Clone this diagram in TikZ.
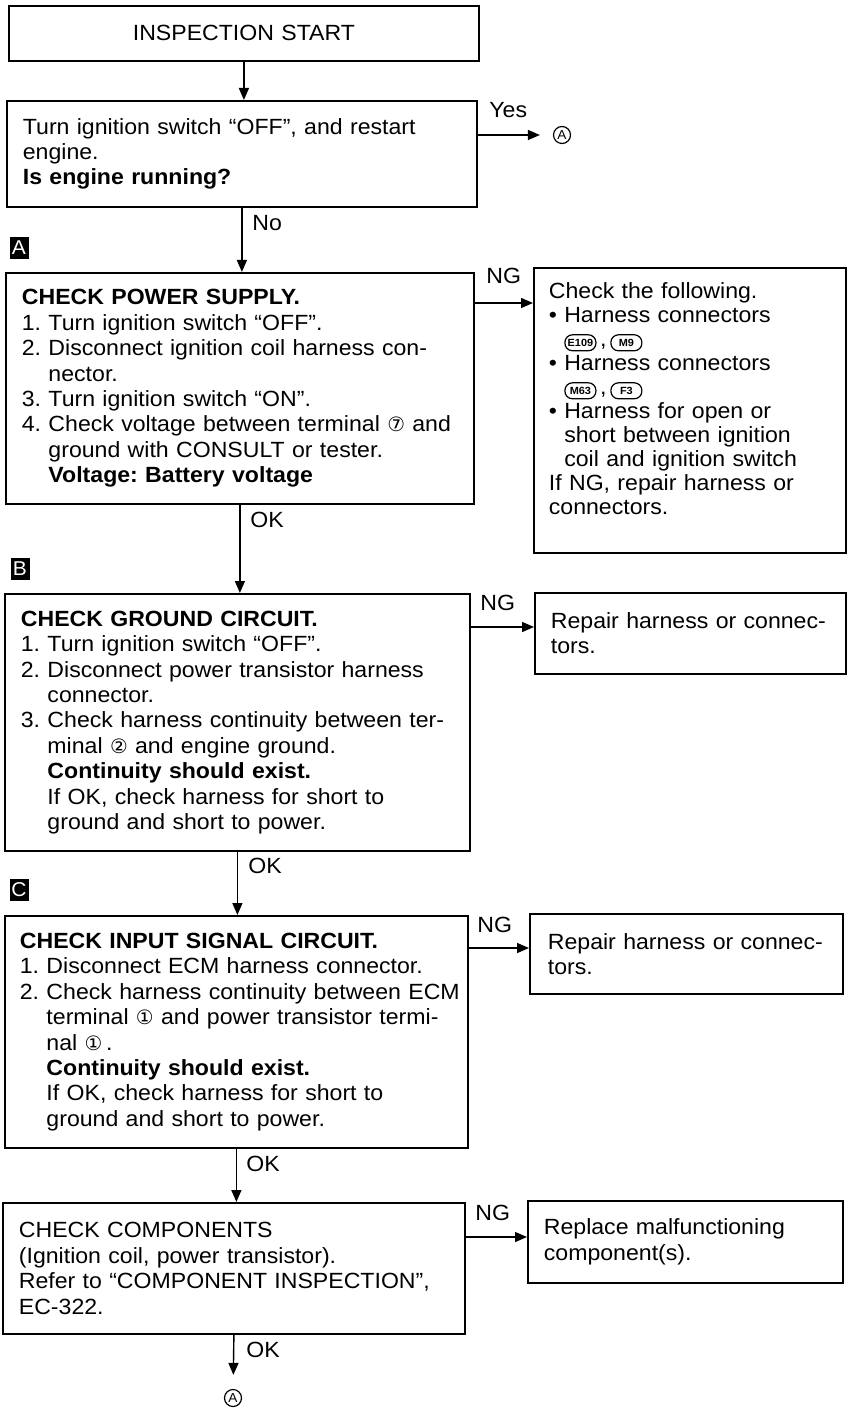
\documentclass[tikz,border=0pt]{standalone}
\usepackage{fontspec}
\setmainfont{Liberation Sans}[FakeStretch=1.05]
\newfontfamily\symf{DejaVu Sans}[Scale=0.9]
\usetikzlibrary{calc, arrows.meta, positioning}

\newcommand{\ind}{\hphantom{4. }}
\newcommand{\conn}[1]{\tikz[baseline=(cn.base)]\node[connbox] (cn) {#1};}

\tikzset{
  flowbox/.style={draw, line width=0.9pt, anchor=north west, align=left, inner xsep=8pt, inner ysep=0pt},
  lbl/.style={anchor=west, inner sep=0pt},
  secbox/.style={fill=black, text=white, minimum width=9.5pt, minimum height=11pt, inner sep=0pt, font=\fontsize{10}{11}\selectfont},
  jump/.style={circle, draw, line width=0.6pt, inner sep=0pt, minimum size=8.5pt, font=\fontsize{6.5}{7}\selectfont},
  connbox/.style={draw, line width=0.6pt, rounded corners=3.8pt, text width={}, align=center, inner sep=0pt,
    minimum width=15.5pt, minimum height=8pt, font=\bfseries\fontsize{5.2}{6}\selectfont},
  arr/.style={line width=0.7pt, -{Triangle[length=6pt,width=5pt]}},
}

\begin{document}
\frenchspacing
\begin{tikzpicture}[x=0.5pt, y=-0.5pt, font=\fontsize{11}{12.7}\selectfont]
\useasboundingbox (0,0) rectangle (847,1411);

% --- 1. START AND RESTART ---
\node[flowbox, align=center, text width=219pt, minimum height=27.5pt] (start) at (8,5) {INSPECTION START};
\node[flowbox, text width=219pt, minimum height=53pt] (restart) at (6,100)
  {Turn ignition switch “OFF”, and restart\\engine.\\\textbf{Is engine running?}};
\node[jump] (cA1) at (562,135) {A};

\draw[arr] (start.south) -- (start.south |- restart.north);
\draw[arr, shorten >=6.5pt] (cA1 -| restart.east) -- (cA1);
\node[lbl] (yesL) at (489,110) {Yes};

% --- 2. POWER SUPPLY (A) ---
\node[secbox] (mkA) at (19,248) {A};
\node[flowbox, text width=218pt, minimum height=115.5pt] (power) at (5,272)
  {\textbf{CHECK POWER SUPPLY.}\\
   1. Turn ignition switch “OFF”.\\
   2. Disconnect ignition coil harness con-\\
   \ind nector.\\
   3. Turn ignition switch “ON”.\\
   4. Check voltage between terminal {\symf ⑦} and\\
   \ind ground with CONSULT or tester.\\
   \ind\textbf{Voltage: Battery voltage}};
\node[flowbox, inner xsep=7.5pt, text width=141pt, minimum height=142.5pt,
      font=\fontsize{11}{12}\selectfont] (check) at (533,267)
  {Check the following.\\
   \textbullet\ Harness connectors\\
   \hphantom{\textbullet\ }\conn{E109}\,,\,\conn{M9}\\
   \textbullet\ Harness connectors\\
   \hphantom{\textbullet\ }\conn{M63}\,,\,\conn{F3}\\
   \textbullet\ Harness for open or\\
   \hphantom{\textbullet\ }short between ignition\\
   \hphantom{\textbullet\ }coil and ignition switch\\
   If NG, repair harness or\\
   connectors.\\
   \mbox{}};

\draw[arr] (restart.south) -- (restart.south |- power.north);
\node[lbl] (noL) at (252,223) {No};
\coordinate (ngP) at ($(power.north east)+(0,31)$);
\draw[arr] (ngP) -- (ngP -| check.west);
\node[lbl] (ngPL) at (486,276) {NG};

% --- 3. GROUND CIRCUIT (B) ---
\node[secbox] (mkB) at (20,569) {B};
\node[flowbox, text width=216.5pt, minimum height=128.5pt] (ground) at (4,593)
  {\textbf{CHECK GROUND CIRCUIT.}\\
   1. Turn ignition switch “OFF”.\\
   2. Disconnect power transistor harness\\
   \ind connector.\\
   3. Check harness continuity between ter-\\
   \ind minal {\symf ②} and engine ground.\\
   \ind\textbf{Continuity should exist.}\\
   \ind If OK, check harness for short to\\
   \ind ground and short to power.};
\node[flowbox, inner xsep=8pt, text width=139.5pt, minimum height=40.5pt] (rep1) at (534,592)
  {Repair harness or connec-\\tors.};

\draw[arr] (power.south) -- (power.south |- ground.north);
\node[lbl] (okP) at (250,520) {OK};
\coordinate (ngG) at ($(ground.north east)+(0,34)$);
\draw[arr] (ngG) -- (ngG -| rep1.west);
\node[lbl] (ngGL) at (480,603) {NG};

% --- 4. INPUT SIGNAL CIRCUIT (C) ---
\node[secbox] (mkC) at (19,890) {C};
\node[flowbox, inner xsep=7.5pt, text width=216.5pt, minimum height=116pt] (input) at (4,915)
  {\textbf{CHECK INPUT SIGNAL CIRCUIT.}\\
   1. Disconnect ECM harness connector.\\
   \mbox{2. Check harness continuity between ECM}\\
   \ind terminal {\symf ①} and power transistor termi-\\
   \ind nal {\symf ①}\,.\\
   \ind\textbf{Continuity should exist.}\\
   \ind If OK, check harness for short to\\
   \ind ground and short to power.};
\node[flowbox, inner xsep=9pt, text width=138.5pt, minimum height=40pt] (rep2) at (529,913)
  {Repair harness or connec-\\tors.};

\draw[arr] (ground.south) -- (ground.south |- input.north);
\node[lbl] (okG) at (248,866) {OK};
\coordinate (ngI) at ($(input.north east)+(0,33)$);
\draw[arr] (ngI) -- (ngI -| rep2.west);
\node[lbl] (ngIL) at (477,925) {NG};

% --- 5. COMPONENTS ---
\node[flowbox, text width=215pt, minimum height=65.5pt] (comp) at (2,1202)
  {CHECK COMPONENTS\\
   (Ignition coil, power transistor).\\
   Refer to “COMPONENT INSPECTION”,\\
   EC-322.};
\node[flowbox, text width=141.5pt, minimum height=41pt] (repl) at (527,1200)
  {Replace malfunctioning\\component(s).};
\node[jump] (cA2) at (233,1398) {A};

\draw[arr] (input.south) -- (input.south |- comp.north);
\node[lbl] (okI) at (246,1164) {OK};
\coordinate (ngC) at ($(comp.north east)+(0,35)$);
\draw[arr] (ngC) -- (ngC -| repl.west);
\node[lbl] (ngCL) at (475,1213) {NG};
\draw[arr, shorten >=7pt] (comp.south) -- (cA2);
\node[lbl] (okC) at (246,1350) {OK};

\end{tikzpicture}
\end{document}
